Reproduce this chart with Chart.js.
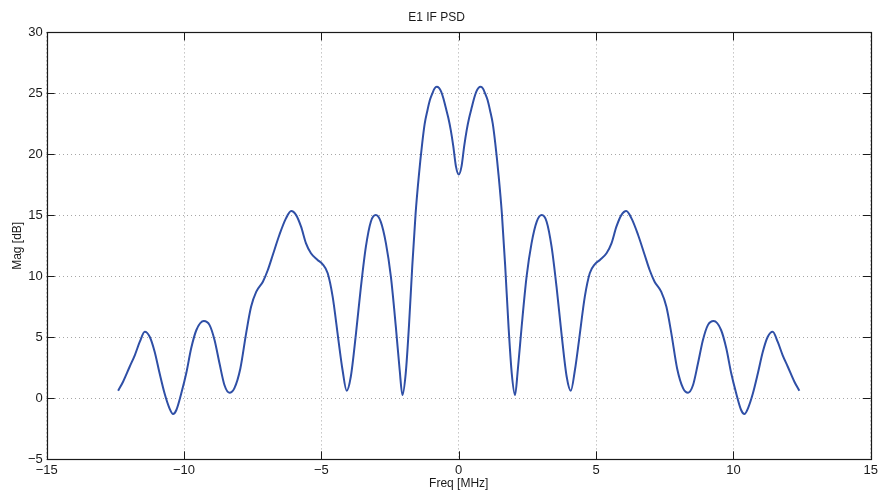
<!DOCTYPE html>
<html>
<head>
<meta charset="utf-8">
<title>E1 IF PSD</title>
<script src="https://cdn.jsdelivr.net/npm/chart.js@4/dist/chart.umd.min.js"></script>
<style>
  html, body { margin: 0; padding: 0; background: #ffffff; }
  #wrap { width: 881px; height: 495px; }
</style>
</head>
<body>
<div id="wrap"><canvas id="psd" width="881" height="495"></canvas></div>
<script>
// Frequency offsets of the spectrum samples, MHz
const freqMHz = [
  -12.40, -12.22, -11.98, -11.79, -11.61, -11.43, -11.25, -11.07, -10.89, -10.71,
  -10.53, -10.40, -10.28, -10.10, -9.92, -9.74, -9.55, -9.28, -9.07, -8.89,
  -8.71, -8.53, -8.35, -8.17, -7.95, -7.74, -7.56, -7.37, -7.13, -6.95,
  -6.77, -6.53, -6.29, -6.10, -5.92, -5.74, -5.56, -5.38, -5.14, -4.96,
  -4.77, -4.59, -4.38, -4.23, -4.08, -3.93, -3.74, -3.56, -3.38, -3.20,
  -3.02, -2.84, -2.65, -2.47, -2.29, -2.15, -2.05, -1.93, -1.81, -1.69,
  -1.57, -1.45, -1.33, -1.24, -1.14, -1.05, -0.96, -0.88, -0.80, -0.72,
  -0.64, -0.56, -0.48, -0.38, -0.29, -0.20, -0.10, 0.00,
  0.10, 0.20, 0.29, 0.38, 0.48, 0.56, 0.64, 0.72, 0.80, 0.88,
  0.96, 1.05, 1.14, 1.24, 1.33, 1.45, 1.57, 1.69, 1.81, 1.93,
  2.05, 2.15, 2.29, 2.47, 2.65, 2.84, 3.02, 3.20, 3.38, 3.56,
  3.74, 3.93, 4.08, 4.23, 4.38, 4.59, 4.77, 4.96, 5.14, 5.38,
  5.56, 5.74, 5.92, 6.10, 6.29, 6.53, 6.77, 6.95, 7.13, 7.37,
  7.56, 7.74, 7.95, 8.17, 8.35, 8.53, 8.71, 8.89, 9.07, 9.28,
  9.55, 9.74, 9.92, 10.10, 10.28, 10.40, 10.53, 10.71, 10.89, 11.07,
  11.25, 11.43, 11.61, 11.79, 11.98, 12.22, 12.40
];

// Power spectral density magnitude, dB
const magDb = [
  0.62, 1.36, 2.59, 3.55, 4.64, 5.46, 5.05, 3.82, 2.05, 0.41,
  -0.82, -1.29, -0.96, 0.41, 2.05, 4.10, 5.60, 6.33, 6.00, 4.78,
  2.87, 1.09, 0.46, 0.82, 2.45, 5.33, 7.50, 8.74, 9.56, 10.52,
  11.75, 13.39, 14.75, 15.35, 15.02, 14.07, 12.70, 11.89, 11.34, 11.01,
  10.25, 8.33, 4.78, 2.32, 0.62, 1.77, 5.33, 9.15, 12.43, 14.48,
  15.02, 14.48, 12.70, 9.97, 5.87, 2.32, 0.27, 2.05, 6.00, 10.90,
  15.16, 18.30, 20.90, 22.50, 23.60, 24.45, 25.00, 25.40, 25.54, 25.45,
  25.15, 24.60, 23.90, 23.00, 21.99, 20.70, 19.00, 18.35,
  19.00, 20.70, 21.99, 23.00, 23.90, 24.60, 25.15, 25.45, 25.54, 25.40,
  25.00, 24.45, 23.60, 22.50, 20.90, 18.30, 15.16, 10.90, 6.00, 2.05,
  0.27, 2.32, 5.87, 9.97, 12.70, 14.48, 15.02, 14.48, 12.43, 9.15,
  5.33, 1.77, 0.62, 2.32, 4.78, 8.33, 10.25, 11.01, 11.34, 11.89,
  12.70, 14.07, 15.02, 15.35, 14.75, 13.39, 11.75, 10.52, 9.56, 8.74,
  7.50, 5.33, 2.45, 0.82, 0.46, 1.09, 2.87, 4.78, 6.00, 6.33,
  5.60, 4.10, 2.05, 0.41, -0.96, -1.29, -0.82, 0.41, 2.05, 3.82,
  5.05, 5.46, 4.64, 3.55, 2.59, 1.36, 0.62
];

// Axis tick values
const xTicks = [-15, -10, -5, 0, 5, 10, 15];
const yTicks = [-5, 0, 5, 10, 15, 20, 25, 30];

const titleText = 'E1 IF PSD';
const xLabel = 'Freq [MHz]';
const yLabel = 'Mag [dB]';

const FONT = '"Liberation Sans", Arial, Helvetica, sans-serif';
const INK = '#1a1a1a';

const points = freqMHz.map((f, i) => ({ x: f, y: magDb[i] }));

const minus = v => (v < 0 ? '\u2212' + Math.abs(v) : String(v));

// Closed box around the plot area with short inward tick marks on all sides
const boxedAxes = {
  id: 'boxedAxes',
  afterDatasetsDraw(chart) {
    const { ctx, chartArea: a, scales } = chart;
    const len = 8;
    ctx.save();
    ctx.strokeStyle = INK;
    ctx.lineWidth = 1;
    ctx.beginPath();
    xTicks.forEach(v => {
      const px = Math.round(scales.x.getPixelForValue(v)) + 0.5;
      ctx.moveTo(px, a.bottom); ctx.lineTo(px, a.bottom - len);
      ctx.moveTo(px, a.top); ctx.lineTo(px, a.top + len);
    });
    yTicks.forEach(v => {
      const py = Math.round(scales.y.getPixelForValue(v)) + 0.5;
      ctx.moveTo(a.left, py); ctx.lineTo(a.left + len, py);
      ctx.moveTo(a.right, py); ctx.lineTo(a.right - len, py);
    });
    ctx.stroke();
    ctx.lineWidth = 1.2;
    ctx.strokeRect(Math.round(a.left) + 0.5, Math.round(a.top) + 0.5,
                   Math.round(a.right - a.left), Math.round(a.bottom - a.top));
    ctx.restore();
  }
};

new Chart(document.getElementById('psd'), {
  type: 'line',
  data: {
    datasets: [{
      data: points,
      borderColor: '#2f4fa6',
      borderWidth: 2,
      pointRadius: 0,
      fill: false,
      cubicInterpolationMode: 'monotone'
    }]
  },
  options: {
    responsive: false,
    animation: false,
    events: [],
    layout: { padding: { left: 0, right: 8, top: 0, bottom: 0 } },
    plugins: {
      legend: { display: false },
      tooltip: { enabled: false },
      title: {
        display: true,
        text: titleText,
        color: INK,
        font: { family: FONT, size: 12, weight: 'normal', lineHeight: 1.2 },
        padding: { top: 10, bottom: 8 }
      }
    },
    scales: {
      x: {
        type: 'linear',
        min: -15,
        max: 15,
        afterFit(scale) { scale.height = 35.7; },
        afterBuildTicks(scale) { scale.ticks = xTicks.map(v => ({ value: v })); },
        ticks: {
          color: INK,
          padding: 3,
          maxRotation: 0,
          font: { family: FONT, size: 13 },
          callback: minus
        },
        grid: { color: '#a6a6a6', lineWidth: 1, drawTicks: false },
        border: { display: false, dash: [1, 3] },
        title: {
          display: true,
          text: xLabel,
          color: INK,
          font: { family: FONT, size: 12, lineHeight: 1.2 },
          padding: { top: 0, bottom: 4 }
        }
      },
      y: {
        type: 'linear',
        min: -5,
        max: 30,
        afterFit(scale) { scale.width = 46.7; },
        afterBuildTicks(scale) { scale.ticks = yTicks.map(v => ({ value: v })); },
        ticks: {
          color: INK,
          padding: 4,
          font: { family: FONT, size: 13 },
          callback: minus
        },
        grid: { color: '#a6a6a6', lineWidth: 1, drawTicks: false },
        border: { display: false, dash: [1, 3] },
        title: {
          display: true,
          text: yLabel,
          color: INK,
          font: { family: FONT, size: 12, lineHeight: 1.2 },
          padding: { top: 10, bottom: 0 }
        }
      }
    }
  },
  plugins: [boxedAxes]
});
</script>
</body>
</html>
